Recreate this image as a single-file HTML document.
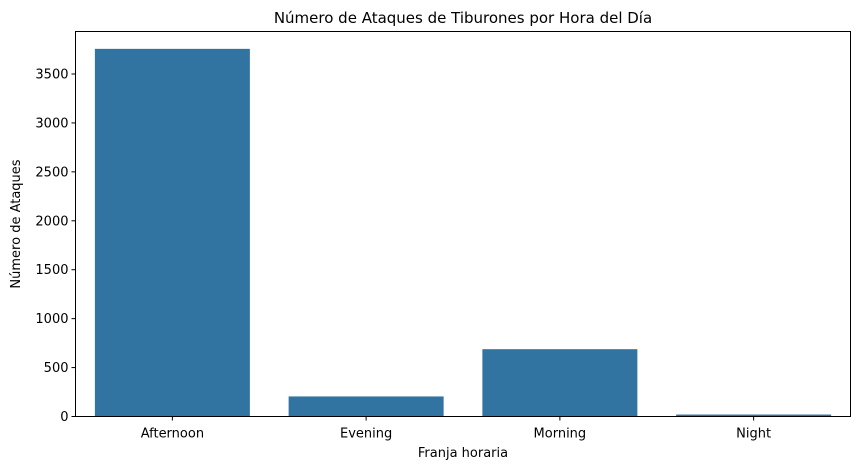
<!DOCTYPE html>
<html><head><meta charset="utf-8"><style>
body{margin:0;background:#fff;font-family:"Liberation Sans","DejaVu Sans",sans-serif}
svg text{font-family:"DejaVu Sans","Liberation Sans",sans-serif;fill:#000}
</style></head><body>
<svg id="c" width="860" height="469"></svg>
<script>
const categories=["Afternoon","Evening","Morning","Night"];
const values=[3757,205,688,20];
const yTicks=[0,500,1000,1500,2000,2500,3000,3500];
const L=75.5,R=850.5,T=31.5,B=416.5,yMax=3500,yMaxPix=74;
const svg=document.getElementById('c');
const NS='http://www.w3.org/2000/svg';
function y(v){return B-(v/yMax)*(B-yMaxPix);}
const band=(R-L)/categories.length;
function xc(i){return L+band*(i+0.5);}
function mk(t,a){const e=document.createElementNS(NS,t);for(const k in a)e.setAttribute(k,a[k]);svg.appendChild(e);return e;}
values.forEach((v,i)=>{
const r=mk('rect',{x:xc(i)-band*0.4,y:y(v),width:band*0.8,height:B-y(v),fill:'#3274a1'});


});
const ax=mk('rect',{x:L,y:T,width:R-L,height:B-T,fill:'none',stroke:'#000','stroke-width':1});


yTicks.forEach(t=>{
mk('line',{x1:L-4,x2:L,y1:y(t),y2:y(t),stroke:'#000'});
const tx=mk('text',{x:L-7,y:y(t)+4.5,'text-anchor':'end','font-size':13});
tx.textContent=t;


});
categories.forEach((c,i)=>{
mk('line',{x1:xc(i),x2:xc(i),y1:B,y2:B+4,stroke:'#000'});
const tx=mk('text',{x:xc(i),y:B+21,'text-anchor':'middle','font-size':13});
tx.textContent=c;


});
const ti=mk('text',{x:(L+R)/2,y:23,'text-anchor':'middle','font-size':15});
ti.textContent='Número de Ataques de Tiburones por Hora del Día';


const xt=mk('text',{x:(L+R)/2,y:457,'text-anchor':'middle','font-size':13});
xt.textContent='Franja horaria';


const yt=mk('text',{x:0,y:0,'text-anchor':'middle','font-size':13,transform:'translate(20,'+((T+B)/2)+') rotate(-90)'});
yt.textContent='Número de Ataques';


</script>
</body></html>
